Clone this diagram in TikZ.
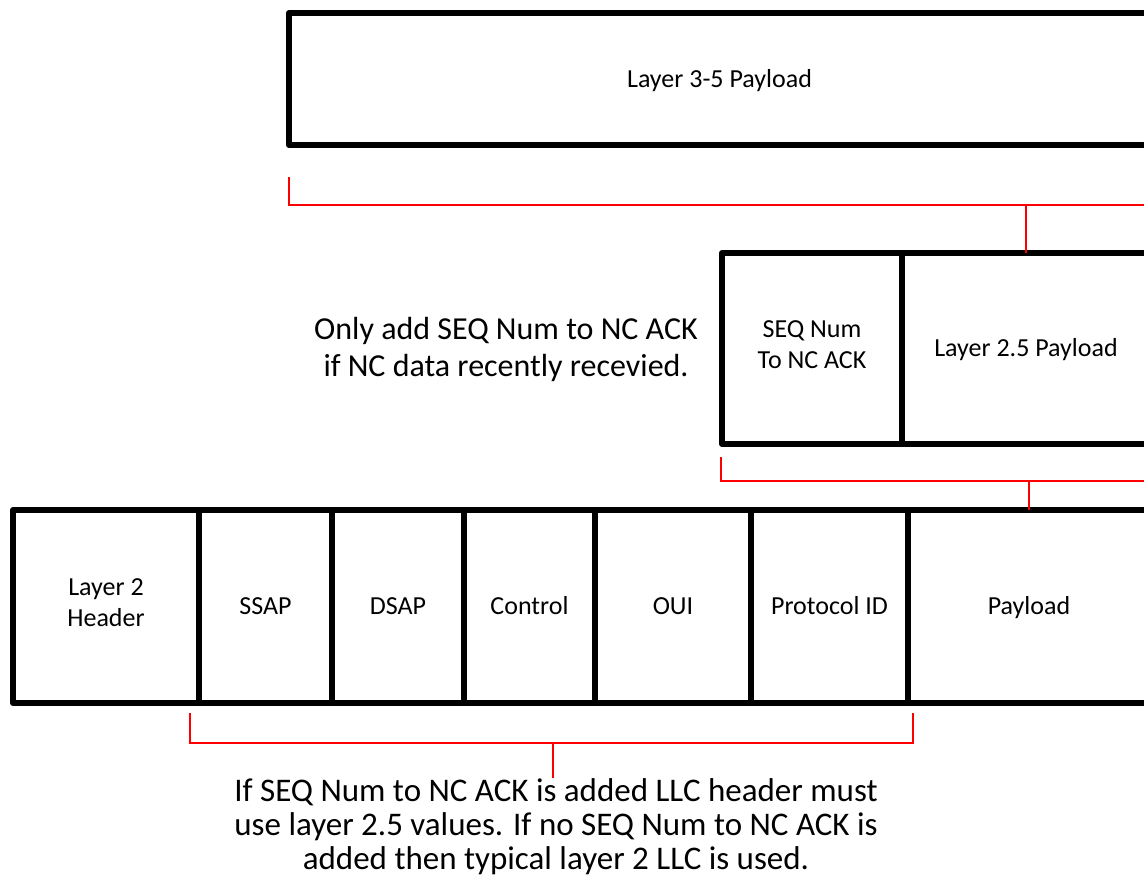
\documentclass[tikz,border=0pt]{standalone}
\usepackage{fontspec}
\setmainfont{Carlito}
\usepackage{tikz}
\usetikzlibrary{positioning}

\tikzset{
    cell/.style={draw, line width=6pt, line join=round, inner sep=0pt, outer sep=0pt,
        align=center, minimum height=193pt, font=\fontsize{26}{31}\selectfont,
        execute at begin node={\rule{0pt}{24pt}}, execute at end node={\rule[-8pt]{0pt}{8pt}}},
    brk/.style={draw=red, line width=2pt},
    note/.style={align=center, inner sep=0pt, font=\fontsize{32}{37}\selectfont}
}

\begin{document}
\begin{tikzpicture}[x=1pt, y=-1pt]
    \clip (0,0) rectangle (1144,878);
    \useasboundingbox (0,0) rectangle (1144,878);

    % Layer 3-5
    \node[cell, minimum width=861pt, minimum height=132pt] (top) at (719.5,79) {Layer 3-5 Payload};

    % Layer 2.5
    \node[cell, minimum width=180pt, minimum height=191pt] (seq) at (812,348.5) {SEQ Num\\To NC ACK};
    \node[cell, minimum width=248pt, minimum height=191pt, right=0pt of seq] (l25) {Layer 2.5 Payload};

    % Layer 2 frame
    \node[cell, minimum width=186pt] (hdr) at (106,606.5) {Layer 2\\Header};
    \node[cell, minimum width=133pt, right=0pt of hdr] (ssap) {SSAP};
    \node[cell, minimum width=132pt, right=0pt of ssap] (dsap) {DSAP};
    \node[cell, minimum width=131pt, right=0pt of dsap] (ctrl) {Control};
    \node[cell, minimum width=156pt, right=0pt of ctrl] (oui) {OUI};
    \node[cell, minimum width=157pt, right=0pt of oui] (pid) {Protocol ID};
    \node[cell, minimum width=242pt, right=0pt of pid] (pay) {Payload};

    % Notes
    \node[note, anchor=base] (only) at (506,376) {Only add SEQ Num to NC ACK\\if NC data recently recevied.};
    \node[note, anchor=base, font=\fontsize{33}{34}\selectfont] (llc) at (556,869) {If SEQ Num to NC ACK is added LLC header must\\use layer 2.5 values. If no SEQ Num to NC ACK is\\added then typical layer 2 LLC is used.};

    % Brackets
    \coordinate (b1l) at (289,177);
    \coordinate (b1r) at (1150,205);
    \draw[brk] (b1l) |- (b1r);
    \draw[brk] (l25.north) -- (l25.north |- b1r);

    \coordinate (b2l) at (721,457);
    \coordinate (b2r) at (1150,481);
    \draw[brk] (b2l) |- (b2r);
    \draw[brk] (pay.north) -- (pay.north |- b2r);

    \coordinate (b3l) at (190,713);
    \coordinate (b3r) at (913,713);
    \coordinate (b3m) at (553,743);
    \draw[brk] (b3l) |- (b3m) -| (b3r);
    \draw[brk] (b3m) -- (b3m |- llc.north);
\end{tikzpicture}
\end{document}
